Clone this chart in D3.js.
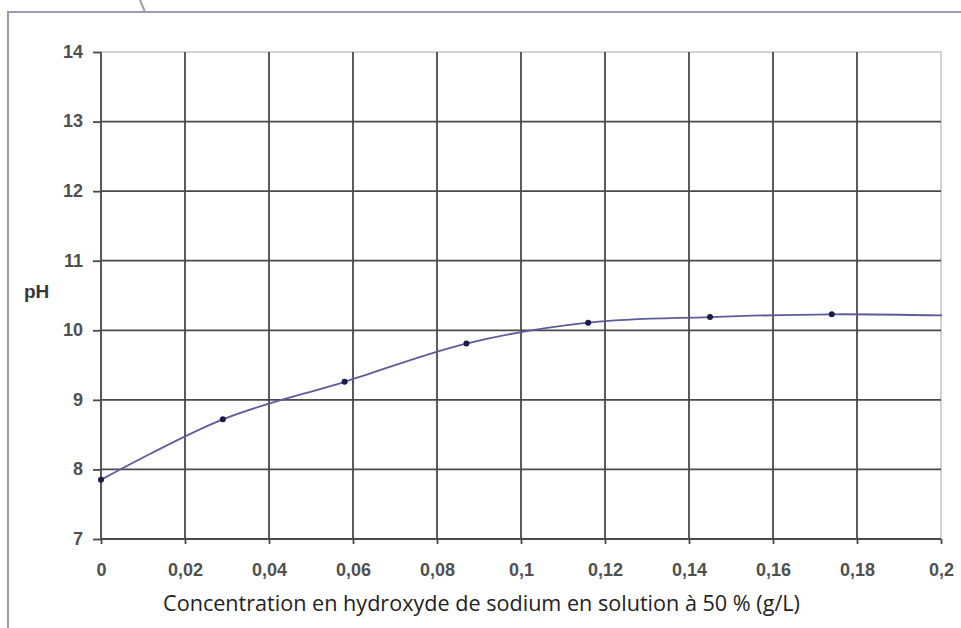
<!DOCTYPE html>
<html><head><meta charset="utf-8">
<script src="https://cdn.jsdelivr.net/npm/d3@7"></script>
<style>html,body{margin:0;padding:0;background:#fff;}svg{display:block;}</style>
</head><body>
<script>
// Data
const concentration = [0, 0.029, 0.058, 0.087, 0.116, 0.145, 0.174];
const pHValues = [7.85, 8.72, 9.26, 9.81, 10.11, 10.19, 10.23];
// smoothed trend continues past the last measured point to the axis edge
const lineConcentration = [0, 0.029, 0.058, 0.087, 0.116, 0.145, 0.174, 0.203];
const linePH = [7.85, 8.72, 9.26, 9.81, 10.11, 10.19, 10.23, 10.21];
const xTicks = [0, 0.02, 0.04, 0.06, 0.08, 0.1, 0.12, 0.14, 0.16, 0.18, 0.2];
const xTickLabels = ["0", "0,02", "0,04", "0,06", "0,08", "0,1", "0,12", "0,14", "0,16", "0,18", "0,2"];
const yTicks = [7, 8, 9, 10, 11, 12, 13, 14];
const yLabel = "pH";
const xLabel = "Concentration en hydroxyde de sodium en solution à 50 % (g/L)";

const W = 961, H = 628;
const svg = d3.select("body").append("svg").attr("width", W).attr("height", H);

// outer frame
const frameColor = "#9d9bb3";
svg.append("line").attr("x1", 8).attr("y1", 12).attr("x2", W).attr("y2", 12)
  .attr("stroke", frameColor).attr("stroke-width", 2);
svg.append("line").attr("x1", 8).attr("y1", 11).attr("x2", 8).attr("y2", H)
  .attr("stroke", frameColor).attr("stroke-width", 2);
svg.append("line").attr("x1", 140).attr("y1", 0).attr("x2", 145).attr("y2", 12)
  .attr("stroke", frameColor).attr("stroke-width", 2);

const pL = 101, pR = 941, pT = 52, pB = 539;
const x = d3.scaleLinear().domain([0, 0.2]).range([pL, pR]);
const y = d3.scaleLinear().domain([7, 14]).range([pB, pT]);

// plot border (light)
svg.append("rect").attr("x", pL).attr("y", pT).attr("width", pR - pL).attr("height", pB - pT)
  .attr("fill", "none").attr("stroke", "#c4c4c4").attr("stroke-width", 1.5);

const gridColor = "#4a4a4a";
// horizontal gridlines
svg.append("g").selectAll("line").data(yTicks.filter(d => d < 14)).join("line")
  .attr("x1", pL).attr("x2", pR).attr("y1", d => y(d)).attr("y2", d => y(d))
  .attr("stroke", gridColor).attr("stroke-width", 1.8);
// vertical gridlines
svg.append("g").selectAll("line").data(xTicks.filter(d => d < 0.2)).join("line")
  .attr("x1", d => x(d)).attr("x2", d => x(d)).attr("y1", pT).attr("y2", pB)
  .attr("stroke", gridColor).attr("stroke-width", 1.8);

const tickFont = "Liberation Sans, Arial, sans-serif";
// axes via d3
const yAxis = d3.axisLeft(y).tickValues(yTicks).tickSize(8).tickPadding(10).tickFormat(d3.format("d"));
const gy = svg.append("g").attr("transform", `translate(${pL},0)`).call(yAxis);
gy.select(".domain").remove();
gy.selectAll(".tick line").attr("stroke", gridColor).attr("stroke-width", 1.8);
gy.selectAll(".tick text").attr("font-family", tickFont)
  .attr("font-size", 18).attr("font-weight", "bold").attr("fill", "#505050").attr("dy", "0.3em");

const xAxis = d3.axisBottom(x).tickValues(xTicks).tickSize(5).tickPadding(19)
  .tickFormat((d, i) => xTickLabels[i]);
const gx = svg.append("g").attr("transform", `translate(0,${pB})`).call(xAxis);
gx.select(".domain").remove();
gx.selectAll(".tick line").attr("stroke", gridColor).attr("stroke-width", 1.8);
gx.selectAll(".tick text").attr("font-family", tickFont)
  .attr("font-size", 18).attr("font-weight", "bold").attr("fill", "#505050");

// axis titles
svg.append("text").attr("x", 24).attr("y", 298).text(yLabel)
  .attr("font-family", tickFont).attr("font-size", 19)
  .attr("font-weight", "bold").attr("fill", "#383838");
svg.append("text").attr("x", (163 + 800) / 2).attr("y", 611).attr("text-anchor", "middle").text(xLabel)
  .attr("font-family", "Open Sans, Noto Sans, sans-serif").attr("font-size", 21.6).attr("fill", "#222");

// curve
svg.append("clipPath").attr("id", "clip").append("rect")
  .attr("x", pL).attr("y", pT).attr("width", pR - pL + 1).attr("height", pB - pT);
const linePts = lineConcentration.map((c, i) => [c, linePH[i]]);
svg.append("path").datum(linePts).attr("clip-path", "url(#clip)")
  .attr("d", d3.line().x(d => x(d[0])).y(d => y(d[1])).curve(d3.curveCatmullRom.alpha(0.5)))
  .attr("fill", "none").attr("stroke", "#5c5c9c").attr("stroke-width", 1.8);

// markers
svg.append("g").selectAll("circle").data(concentration.map((c, i) => [c, pHValues[i]])).join("circle")
  .attr("cx", d => x(d[0])).attr("cy", d => y(d[1])).attr("r", 3)
  .attr("fill", "#1c1c4c");
</script>
</body></html>
